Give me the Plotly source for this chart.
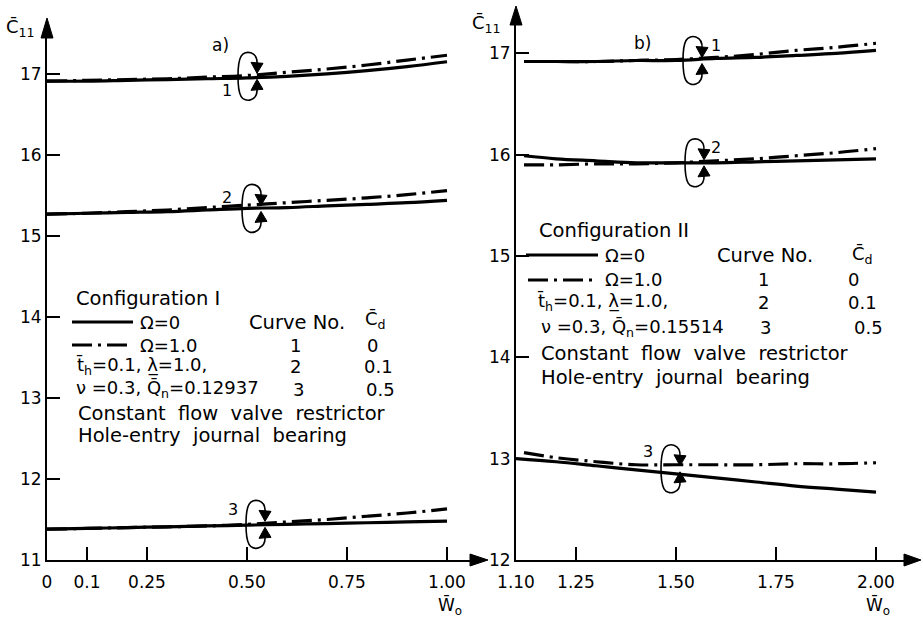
import plotly.graph_objects as go

W, H = 923, 622

# ---------------- data ----------------
x_a = [0.0, 0.1, 0.2, 0.3, 0.4, 0.5, 0.6, 0.7, 0.8, 0.9, 1.0]
a1_solid = [16.91, 16.91, 16.92, 16.93, 16.94, 16.95, 16.97, 17.00, 17.04, 17.09, 17.15]
a1_dash = [16.91, 16.92, 16.93, 16.94, 16.96, 16.98, 17.02, 17.06, 17.11, 17.17, 17.23]
a2_solid = [15.27, 15.28, 15.29, 15.30, 15.32, 15.34, 15.35, 15.37, 15.39, 15.41, 15.44]
a2_dash = [15.27, 15.28, 15.30, 15.32, 15.35, 15.38, 15.41, 15.44, 15.47, 15.51, 15.56]
a3_solid = [11.38, 11.39, 11.40, 11.41, 11.42, 11.43, 11.44, 11.45, 11.46, 11.47, 11.48]
a3_dash = [11.38, 11.39, 11.40, 11.41, 11.42, 11.44, 11.47, 11.50, 11.54, 11.58, 11.63]

x_b = [1.12, 1.2, 1.3, 1.4, 1.5, 1.6, 1.7, 1.8, 1.9, 2.0]
x_b3 = [1.10, 1.2, 1.3, 1.4, 1.5, 1.6, 1.7, 1.8, 1.9, 2.0]
b1_solid = [16.92, 16.92, 16.92, 16.93, 16.93, 16.95, 16.96, 16.98, 17.00, 17.03]
b1_dash = [16.92, 16.92, 16.92, 16.93, 16.94, 16.96, 16.99, 17.03, 17.06, 17.10]
b2_solid = [15.99, 15.96, 15.94, 15.92, 15.92, 15.92, 15.93, 15.94, 15.95, 15.96]
b2_dash = [15.90, 15.90, 15.91, 15.91, 15.92, 15.94, 15.96, 15.99, 16.02, 16.06]
b3_solid = [13.00, 12.97, 12.93, 12.89, 12.85, 12.81, 12.77, 12.73, 12.70, 12.67]
b3_dash = [13.06, 13.01, 12.97, 12.94, 12.94, 12.94, 12.94, 12.95, 12.95, 12.96]

xticks_a = [0, 0.1, 0.25, 0.5, 0.75, 1.0]
xticklabels_a = ["0", "0.1", "0.25", "0.50", "0.75", "1.00"]
xticks_b = [1.10, 1.25, 1.5, 1.75, 2.0]
xticklabels_b = ["1.10", "1.25", "1.50", "1.75", "2.00"]
yticks_a = [11, 12, 13, 14, 15, 16, 17]
yticks_b = [12, 13, 14, 15, 16, 17]

# --------------------------------------
FONT = "DejaVu Sans"
DASHDOT = "20px,6px,3px,6px"
LW = 3.2


def px(x):
    return x / W


def py(y):
    return 1 - y / H


fig = go.Figure()

series = [
    ("x", "y", x_a, a1_solid, a1_dash),
    ("x", "y", x_a, a2_solid, a2_dash),
    ("x", "y", x_a, a3_solid, a3_dash),
    ("x2", "y2", x_b, b1_solid, b1_dash),
    ("x2", "y2", x_b, b2_solid, b2_dash),
]
for xa, ya, xs, ys, yd in series:
    fig.add_trace(go.Scatter(x=xs, y=ys, mode="lines", xaxis=xa, yaxis=ya,
                             line=dict(color="black", width=LW, shape="spline")))
    fig.add_trace(go.Scatter(x=xs, y=yd, mode="lines", xaxis=xa, yaxis=ya,
                             line=dict(color="black", width=LW, dash=DASHDOT, shape="spline")))
fig.add_trace(go.Scatter(x=x_b3, y=b3_solid, mode="lines", xaxis="x2", yaxis="y2",
                         line=dict(color="black", width=LW, shape="spline")))
fig.add_trace(go.Scatter(x=x_b, y=b3_dash, mode="lines", xaxis="x2", yaxis="y2",
                         line=dict(color="black", width=LW, dash=DASHDOT, shape="spline")))

axcommon = dict(showline=True, linecolor="black", linewidth=2, showgrid=False,
                zeroline=False, ticks="inside", ticklen=13, tickwidth=1.5,
                tickcolor="black", tickfont=dict(family=FONT, size=17, color="black"))
xextra = dict(ticklabelstandoff=6)
fig.update_layout(
    width=W, height=H, margin=dict(l=0, r=0, t=0, b=0, autoexpand=False),
    plot_bgcolor="white", paper_bgcolor="white", showlegend=False,
    xaxis=dict(domain=[px(47), px(475)], range=[0, 1.07], tickvals=xticks_a,
               ticktext=xticklabels_a, anchor="y", **axcommon, **xextra),
    yaxis=dict(domain=[py(560), py(35)], range=[11, 17.48], tickvals=yticks_a,
               anchor="x", **axcommon),
    xaxis2=dict(domain=[px(516), px(908)], range=[1.10, 2.08], tickvals=xticks_b,
                ticktext=xticklabels_b, anchor="y2", **axcommon, **xextra),
    yaxis2=dict(domain=[py(560), py(22)], range=[12, 17.31], tickvals=yticks_b,
                anchor="x2", **axcommon),
)

shapes = []


def tri(path_pts):
    d = "M " + " L ".join(f"{px(a)},{py(b)}" for a, b in path_pts) + " Z"
    return dict(type="path", xref="paper", yref="paper", path=d,
                fillcolor="black", line=dict(color="black", width=1))


# axis arrows
shapes.append(tri([(47, 18), (41, 38), (53, 38)]))
shapes.append(tri([(488, 560), (470, 554), (470, 566)]))
shapes.append(tri([(516, 6), (510, 25), (522, 25)]))
shapes.append(tri([(921, 560), (904, 554), (904, 566)]))


# rotation loop symbols (pixel-sized, anchored at data positions)
def loop(xref, yref, xa, ya):
    out = []
    arc = "M 20,12 C 21,25 8,27 4,20 C 0,13 0,-13 4,-20 C 8,-27 21,-25 20,-12"
    out.append(dict(type="path", xref=xref, yref=yref, xsizemode="pixel", ysizemode="pixel",
                    xanchor=xa, yanchor=ya, path=arc, line=dict(color="black", width=1.6)))
    head_top = "M 20,3 L 14,14 L 26,13 Z"
    head_bot = "M 20,-3 L 14,-14 L 26,-13 Z"
    for hd in (head_top, head_bot):
        out.append(dict(type="path", xref=xref, yref=yref, xsizemode="pixel", ysizemode="pixel",
                        xanchor=xa, yanchor=ya, path=hd, fillcolor="black",
                        line=dict(color="black", width=1)))
    return out


shapes += loop("x", "y", 0.475, 16.97)
shapes += loop("x", "y", 0.485, 15.34)
shapes += loop("x", "y", 0.495, 11.44)
shapes += loop("x2", "y2", 1.515, 16.93)
shapes += loop("x2", "y2", 1.52, 15.92)
shapes += loop("x2", "y2", 1.46, 12.90)


def seg(x0, x1, y, dash=None):
    ln = dict(color="black", width=LW)
    if dash:
        ln["dash"] = dash
    return dict(type="line", xref="paper", yref="paper", x0=px(x0), x1=px(x1),
                y0=py(y), y1=py(y), line=ln)


# legend line samples
shapes.append(seg(72, 133, 322))
shapes.append(seg(72, 133, 345, DASHDOT))
shapes.append(seg(526, 598, 255))
shapes.append(seg(528, 598, 280, DASHDOT))

fig.update_layout(shapes=shapes)

ann = []


def txt(x, y, s, size=17, xanchor="left"):
    ann.append(dict(x=px(x), y=py(y), xref="paper", yref="paper", text=s,
                    showarrow=False, xanchor=xanchor, yanchor="middle",
                    font=dict(family=FONT, size=size, color="black")))


def dtxt(xref, yref, x, y, s, size=16):
    ann.append(dict(x=x, y=y, xref=xref, yref=yref, text=s, showarrow=False,
                    font=dict(family=FONT, size=size, color="black")))


# axis titles and panel labels
txt(4, 28, "C\u0304<sub>11</sub>", 18)
txt(210, 45, "a)", 17)
txt(470, 24, "C\u0304<sub>11</sub>", 18)
txt(632, 43, "b)", 17)
txt(436, 606, "W\u0304<sub>o</sub>", 17)
txt(864, 606, "W\u0304<sub>o</sub>", 17)

# curve numbers
dtxt("x", "y", 0.45, 16.80, "1")
dtxt("x", "y", 0.45, 15.48, "2")
dtxt("x", "y", 0.465, 11.62, "3")
dtxt("x2", "y2", 1.60, 17.08, "1")
dtxt("x2", "y2", 1.60, 16.07, "2")
dtxt("x2", "y2", 1.43, 13.07, "3")

LS = 19.5   # word lines
NS = 18     # numeric lines
# left legend
txt(74, 298, "Configuration I", LS)
txt(138, 322, "\u03a9=0", NS)
txt(138, 345, "\u03a9=1.0", NS)
txt(74, 366, "t\u0304<sub>h</sub>=0.1, \u03bb\u0332=1.0,", NS)
txt(74, 389, "\u03bd =0.3, Q\u0304<sub>n</sub>=0.12937", NS)
txt(76, 413, "Constant  flow  valve  restrictor", LS)
txt(76, 435, "Hole-entry  journal  bearing", LS)
txt(297, 322, "Curve No.", LS, "center")
txt(375, 320, "C\u0304<sub>d</sub>", NS, "center")
txt(295, 345, "1", NS, "center")
txt(295, 366, "2", NS, "center")
txt(298, 389, "3", NS, "center")
txt(372, 345, "0", NS, "center")
txt(378, 366, "0.1", NS, "center")
txt(380, 389, "0.5", NS, "center")

# right legend
txt(537, 230, "Configuration II", LS)
txt(603, 255, "\u03a9=0", NS)
txt(603, 280, "\u03a9=1.0", NS)
txt(535, 302, "t\u0304<sub>h</sub>=0.1, \u03bb\u0332=1.0,", NS)
txt(539, 328, "\u03bd =0.3, Q\u0304<sub>n</sub>=0.15514", NS)
txt(539, 353, "Constant  flow  valve  restrictor", LS)
txt(539, 377, "Hole-entry  journal  bearing", LS)
txt(765, 255, "Curve No.", LS, "center")
txt(862, 255, "C\u0304<sub>d</sub>", NS, "center")
txt(763, 280, "1", NS, "center")
txt(763, 302, "2", NS, "center")
txt(765, 328, "3", NS, "center")
txt(853, 280, "0", NS, "center")
txt(862, 302, "0.1", NS, "center")
txt(868, 328, "0.5", NS, "center")

fig.update_layout(annotations=ann)

fig.write_html("out.html")
